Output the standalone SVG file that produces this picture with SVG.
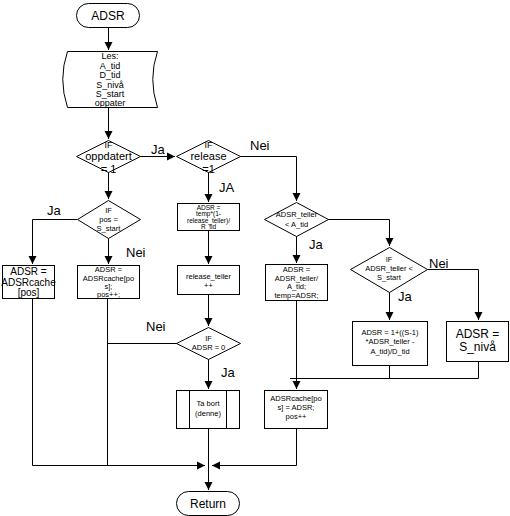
<svg xmlns="http://www.w3.org/2000/svg" width="510" height="516" viewBox="0 0 510 516">
<style>
.s{fill:#fff;stroke:#000;stroke-width:1}
.l{fill:none;stroke:#000;stroke-width:1}
text{font-family:"Liberation Sans",Arial,sans-serif;text-anchor:middle;fill:#000}
.t{font-size:12px}
.c{font-size:11px}
.n{font-size:10px}
.m{font-size:9px}
.sm{font-size:7.5px}
.xs{font-size:6.5px}
.lb{font-size:13px;text-anchor:start}
</style>
<defs>
<marker id="a" markerWidth="8" markerHeight="10" refX="8" refY="4" orient="auto" markerUnits="userSpaceOnUse" viewBox="0 0 8 8">
<path d="M0,0 L8,4 L0,8 Z" fill="#000"/>
</marker>
</defs>
<g id="connectors">
<path class="l" d="M108.5,27 V50" marker-end="url(#a)"/>
<path class="l" d="M108.5,107 V139" marker-end="url(#a)"/>
<path class="l" d="M140,156.5 H175" marker-end="url(#a)"/>
<path class="l" d="M240,156.5 H296.5 V201" marker-end="url(#a)"/>
<path class="l" d="M208.5,172 V202" marker-end="url(#a)"/>
<path class="l" d="M208.5,230 V264" marker-end="url(#a)"/>
<path class="l" d="M208.5,294 V326" marker-end="url(#a)"/>
<path class="l" d="M177,343.5 H107.5"/>
<path class="l" d="M208.5,359 V389" marker-end="url(#a)"/>
<path class="l" d="M208.5,428 V490" marker-end="url(#a)"/>
<path class="l" d="M32.5,298 V465.5 H205" marker-end="url(#a)"/>
<path class="l" d="M107.5,298 V465.5"/>
<path class="l" d="M296.5,428 V465.5 H212" marker-end="url(#a)"/>
<path class="l" d="M108.5,172 V199" marker-end="url(#a)"/>
<path class="l" d="M77,219.5 H32.5 V264" marker-end="url(#a)"/>
<path class="l" d="M108.5,238 V264" marker-end="url(#a)"/>
<path class="l" d="M296.5,236 V263" marker-end="url(#a)"/>
<path class="l" d="M296.5,300 V389" marker-end="url(#a)"/>
<path class="l" d="M328,219.5 H389.5 V246" marker-end="url(#a)"/>
<path class="l" d="M389.5,292 V320" marker-end="url(#a)"/>
<path class="l" d="M427,269.5 H478.5 V320" marker-end="url(#a)"/>
<path class="l" d="M389.5,365 V378.5"/>
<path class="l" d="M478.5,361 V378.5 H290"/>
</g>
<g id="labels">
<text class="lb" x="151" y="154">Ja</text>
<text class="lb" x="250" y="150">Nei</text>
<text class="lb" x="219" y="192">JA</text>
<text class="lb" x="146" y="331">Nei</text>
<text class="lb" x="221" y="377">Ja</text>
<text class="lb" x="47" y="215">Ja</text>
<text class="lb" x="126" y="257">Nei</text>
<text class="lb" x="309" y="249">Ja</text>
<text class="lb" x="398" y="301">Ja</text>
<text class="lb" x="429" y="268">Nei</text>
</g>
<g id="start">
<rect class="s" x="76.5" y="3.5" width="63" height="24" rx="12"/>
<text class="t" x="108" y="20">ADSR</text>
</g>
<g id="input">
<path class="s" d="M67.5,51.5 H157.5 Q148,79 157.5,107.5 H67.5 Q58,79 67.5,51.5 Z"/>
<text class="m" x="110" y="59">Les:</text>
<text class="m" x="110" y="68.5">A_tid</text>
<text class="m" x="110" y="78">D_tid</text>
<text class="m" x="110" y="87.5">S_nivå</text>
<text class="m" x="110" y="97">S_start</text>
<text class="m" x="110" y="106">oppater</text>
</g>
<g id="d_oppdatert">
<path class="s" d="M108.5,140.5 L140.5,156.5 L108.5,172.5 L76.5,156.5 Z"/>
<text class="m" x="108.5" y="148">IF</text>
<text class="c" x="108.5" y="160">oppdatert</text>
<text class="c" x="108.5" y="173">= 1</text>
</g>
<g id="d_release">
<path class="s" d="M208.5,140.5 L240.5,156.5 L208.5,172.5 L176.5,156.5 Z"/>
<text class="m" x="208.5" y="148">IF</text>
<text class="c" x="208.5" y="160">release</text>
<text class="c" x="208.5" y="173">=1</text>
</g>
<g id="b_temp">
<rect class="s" x="177.5" y="203.5" width="62" height="27"/>
<text class="xs" x="208.5" y="209.5">ADSR =</text>
<text class="xs" x="208.5" y="216">temp*(1-</text>
<text class="xs" x="208.5" y="222.5">release_teller)/</text>
<text class="xs" x="208.5" y="229">R_tid</text>
</g>
<g id="b_release">
<rect class="s" x="177.5" y="265.5" width="62" height="29"/>
<text class="sm" x="208.5" y="279">release_teller</text>
<text class="sm" x="208.5" y="288">++</text>
</g>
<g id="d_adsr0">
<path class="s" d="M208.5,327.5 L240.5,343.5 L208.5,359.5 L176.5,343.5 Z"/>
<text class="sm" x="208.5" y="341">IF</text>
<text class="sm" x="208.5" y="350">ADSR = 0</text>
</g>
<g id="p_tabort">
<rect class="s" x="176.5" y="390.5" width="63" height="38"/>
<path class="l" d="M189.5,390.5 V428.5 M226.5,390.5 V428.5"/>
<text class="sm" x="208" y="406">Ta bort</text>
<text class="sm" x="208" y="416">(denne)</text>
</g>
<g id="end">
<rect class="s" x="176.5" y="491.5" width="63" height="24" rx="12"/>
<text class="t" x="208" y="508">Return</text>
</g>
<g id="d_pos">
<path class="s" d="M108.5,200.5 L140.5,219.5 L108.5,238.5 L77.5,219.5 Z"/>
<text class="sm" x="108.5" y="213">IF</text>
<text class="sm" x="108.5" y="222">pos =</text>
<text class="sm" x="108.5" y="231">S_start</text>
</g>
<g id="b_cache">
<rect class="s" x="2.5" y="265.5" width="52" height="33"/>
<text class="n" x="28.5" y="275">ADSR =</text>
<text class="n" x="28.5" y="285.5">ADSRcache</text>
<text class="n" x="28.5" y="296">[pos]</text>
</g>
<g id="b_cachepos">
<rect class="s" x="77.5" y="265.5" width="62" height="33"/>
<text class="sm" x="108.5" y="272">ADSR =</text>
<text class="sm" x="108.5" y="281">ADSRcache[po</text>
<text class="sm" x="108.5" y="289">s];</text>
<text class="sm" x="108.5" y="297">pos++;</text>
</g>
<g id="d_atid">
<path class="s" d="M296.5,202.5 L328.5,219.5 L296.5,236.5 L264.5,219.5 Z"/>
<text class="sm" x="296.5" y="217">ADSR_teller</text>
<text class="sm" x="296.5" y="227">&lt; A_tid</text>
</g>
<g id="b_attack">
<rect class="s" x="265.5" y="264.5" width="62" height="36"/>
<text class="sm" x="296.5" y="272">ADSR =</text>
<text class="sm" x="296.5" y="281">ADSR_teller/</text>
<text class="sm" x="296.5" y="289">A_tid;</text>
<text class="sm" x="296.5" y="298">temp=ADSR;</text>
</g>
<g id="d_sstart">
<path class="s" d="M389.5,247.5 L427.5,269.5 L389.5,292.5 L350.5,269.5 Z"/>
<text class="sm" x="389" y="262">IF</text>
<text class="sm" x="389" y="271">ADSR_teller &lt;</text>
<text class="sm" x="389" y="280">S_start</text>
</g>
<g id="b_decay">
<rect class="s" x="352.5" y="321.5" width="75" height="44"/>
<text class="sm" x="390" y="335">ADSR = 1+((S-1)</text>
<text class="sm" x="390" y="344">*ADSR_teller -</text>
<text class="sm" x="390" y="354">A_tid)/D_tid</text>
</g>
<g id="b_sustain">
<rect class="s" x="446.5" y="321.5" width="62" height="40"/>
<text class="t" x="477.5" y="338">ADSR =</text>
<text class="t" x="477.5" y="351">S_nivå</text>
</g>
<g id="b_store">
<rect class="s" x="264.5" y="390.5" width="63" height="38"/>
<text class="sm" x="296" y="401">ADSRcache[po</text>
<text class="sm" x="296" y="410">s] = ADSR;</text>
<text class="sm" x="296" y="419">pos++</text>
</g>
</svg>
